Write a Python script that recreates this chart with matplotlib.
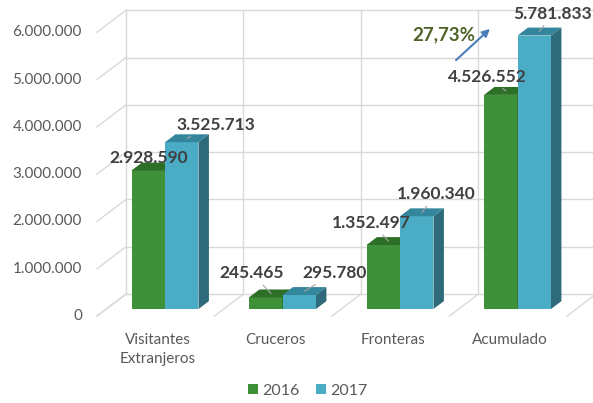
import matplotlib.pyplot as plt
from matplotlib.patches import Polygon, Patch

plt.rcParams['font.family'] = ['Lato', 'DejaVu Sans']

# data
categories = ['Visitantes\nExtranjeros', 'Cruceros', 'Fronteras', 'Acumulado']
years = ['2016', '2017']
v2016 = [2928590, 245465, 1352497, 4526552]
v2017 = [3525713, 295780, 1960340, 5781833]
yticks = [0, 1000000, 2000000, 3000000, 4000000, 5000000, 6000000]

# label offsets in pixels (manual placement like the excel chart)
offsets_2016 = [(-5, 9), (-19, 20), (-17, 18), (-19, 14)]
offsets_2017 = [(29, 13), (30, 18), (14, 18), (13, 18)]

GREEN = ('#3F9139', '#2E6F28', '#2A6026')   # front, top, side
BLUE = ('#4BACC6', '#33869C', '#2E6A7A')
GRID = '#D9D9D9'

# pseudo 3d geometry (data units): 1 category = 117.5 px, 1M = 47.3 px
PX_X = 1 / 117.5
PX_Y = 1e6 / 47.3
BAR_W = 0.285
DEPTH_X = 29 * PX_X
DEPTH_Y = 22 * PX_Y
FRONT = 0.32          # bars sit between FRONT and BACK of the floor depth
BACK = 0.68


def fmt(v):
    return f'{v:,}'.replace(',', '.')


fig = plt.figure(figsize=(5.93, 4.03), dpi=100)
ax = fig.add_axes([0, 0, 1, 1])
ax.axis('off')
ax.set_xlim(-165 * PX_X, (593 - 165) * PX_X)
ax.set_ylim(-(403 - 309) * PX_Y, 309 * PX_Y)

n = len(categories)
left, right = -0.5, n - 0.5
bx, by = BACK * DEPTH_X, BACK * DEPTH_Y
fx, fy = FRONT * DEPTH_X, FRONT * DEPTH_Y

# back wall, side wall and floor grid
for t in yticks:
    ax.plot([left + bx, right + bx], [t + by, t + by], color=GRID, lw=1, zorder=1)
    ax.plot([left - fx, left + bx], [t - fy, t + by], color=GRID, lw=1, zorder=1)
for k in range(n + 1):
    xb = left + k
    ax.plot([xb + bx, xb + bx], [by, yticks[-1] + by], color=GRID, lw=1, zorder=1)
    ax.plot([xb - fx, xb + bx], [-fy, by], color=GRID, lw=1, zorder=1)

# tick labels on the front plane
for t in yticks:
    ax.text(left - fx - 15 * PX_X, t - fy, fmt(t), ha='right', va='center',
            fontsize=11, color='#595959')

for i, c in enumerate(categories):
    ax.text(i - fx + 2 * PX_X, -24 * PX_Y, c, ha='center', va='top',
            fontsize=11, color='#595959', linespacing=1.5)

# bars
ddx = (BACK - FRONT) * DEPTH_X
ddy = (BACK - FRONT) * DEPTH_Y


def bar3d(x0, v, cols):
    x1 = x0 + BAR_W
    ax.add_patch(Polygon([(x0, 0), (x1, 0), (x1, v), (x0, v)], closed=True,
                         fc=cols[0], lw=0, zorder=3))
    ax.add_patch(Polygon([(x0, v), (x1, v), (x1 + ddx, v + ddy), (x0 + ddx, v + ddy)],
                         closed=True, fc=cols[1], lw=0, zorder=3))
    ax.add_patch(Polygon([(x1, 0), (x1 + ddx, ddy), (x1 + ddx, v + ddy), (x1, v)],
                         closed=True, fc=cols[2], lw=0, zorder=3))


for i in range(n):
    bar3d(i - BAR_W, v2016[i], GREEN)
    bar3d(i, v2017[i], BLUE)

# value labels
for i in range(n):
    for x0, v, off, lead in [(i - BAR_W, v2016[i], offsets_2016[i], i > 0),
                             (i, v2017[i], offsets_2017[i], True)]:
        anchor = (x0 + BAR_W / 2 + ddx / 2, v + ddy / 2)
        ax.annotate(fmt(v), anchor, xytext=off, textcoords='offset pixels',
                    ha='center', va='center', fontsize=12.5, fontweight='bold',
                    color='#404040', zorder=6,
                    arrowprops=dict(arrowstyle='-', color='#A6A6A6', lw=0.8,
                                    shrinkA=1, shrinkB=0) if lead else None)

# growth of the accumulated total
growth = (v2017[-1] / v2016[-1] - 1) * 100
ax.annotate('', xy=((492 - 165) * PX_X, (309 - 27) * PX_Y),
            xytext=((454 - 165) * PX_X, (309 - 62) * PX_Y),
            arrowprops=dict(arrowstyle='-|>', color='#4A7EBB', lw=1.5,
                            mutation_scale=11), zorder=6)
ax.text((444 - 165) * PX_X, (309 - 35) * PX_Y, f'{growth:.2f}%'.replace('.', ','),
        ha='center', va='center', fontsize=13.5, fontweight='bold',
        color='#4F6228', zorder=7)

handles = [Patch(fc=GREEN[0], label=years[0]), Patch(fc=BLUE[0], label=years[1])]
fig.legend(handles=handles, loc='center', bbox_to_anchor=(308 / 593, 1 - 391 / 403),
           ncol=2, frameon=False, fontsize=11.5, handlelength=0.6, handleheight=0.6,
           handletextpad=0.3, columnspacing=1.0, labelcolor='#595959',
           borderpad=0, borderaxespad=0)

fig.savefig('out.png', dpi=100, facecolor='white')
